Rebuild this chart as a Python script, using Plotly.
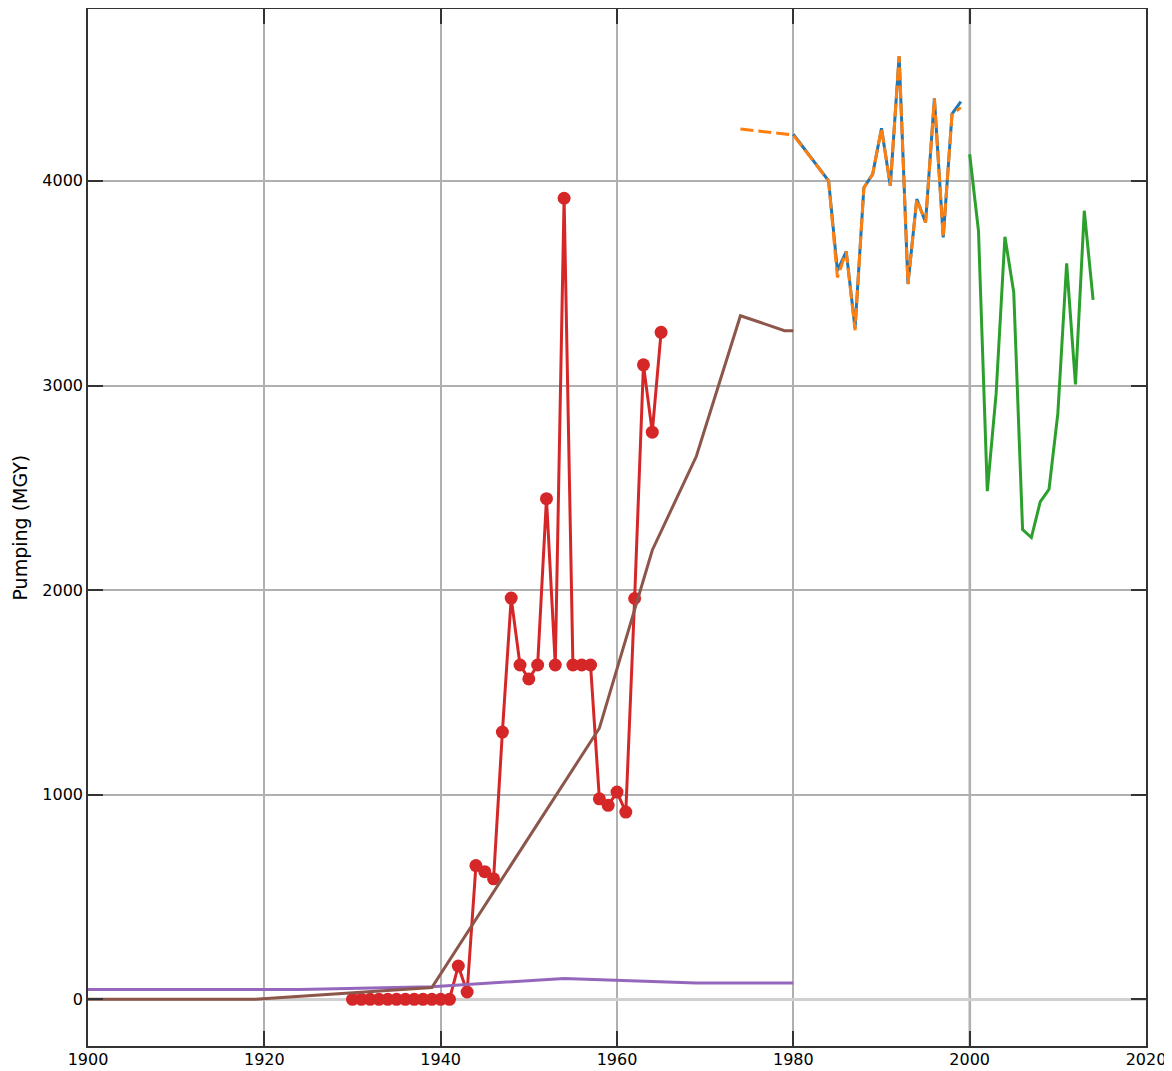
import plotly.graph_objects as go

# ---- data ----
blue_years = [1980, 1984, 1985, 1986, 1987, 1988, 1989, 1990, 1991, 1992, 1993, 1994, 1995, 1996, 1997, 1998, 1999]
blue_vals = [4228, 4000, 3561, 3655, 3281, 3967, 4033, 4257, 3976, 4610, 3496, 3911, 3797, 4403, 3724, 4328, 4387]

orange_years = [1974, 1980, 1984, 1985, 1986, 1987, 1988, 1989, 1990, 1991, 1992, 1993, 1994, 1995, 1996, 1997, 1998, 1999]
orange_vals = [4254, 4224, 4000, 3528, 3655, 3270, 3967, 4033, 4257, 3976, 4610, 3496, 3911, 3797, 4403, 3724, 4328, 4358]

green_years = [2000, 2001, 2002, 2003, 2004, 2005, 2006, 2007, 2008, 2009, 2010, 2011, 2012, 2013, 2014]
green_vals = [4130, 3756, 2484, 2960, 3727, 3455, 2296, 2257, 2431, 2493, 2862, 3597, 3005, 3854, 3418]

red_years = list(range(1930, 1966))
red_vals = [0, 0, 0, 0, 0, 0, 0, 0, 0, 0, 0, 0,
            163, 36, 654, 624, 589, 1306, 1961, 1634, 1566, 1634, 2447, 1634, 3915,
            1634, 1634, 1634, 980, 948, 1013, 915, 1959, 3101, 2772, 3260]

purple_years = [1900, 1924, 1939, 1954, 1969, 1980]
purple_vals = [48, 48, 62, 102, 80, 80]

brown_years = [1900, 1919, 1939, 1958, 1964, 1969, 1974, 1979, 1980]
brown_vals = [0, 0, 58, 1325, 2195, 2654, 3341, 3268, 3268]

x_ticks = [1900, 1920, 1940, 1960, 1980, 2000, 2020]
y_ticks = [0, 1000, 2000, 3000, 4000]

FONT = "DejaVu Sans"
LW = 3

fig = go.Figure()
fig.add_trace(go.Scatter(x=blue_years, y=blue_vals, mode="lines",
                         line=dict(color="#1f77b4", width=LW)))
fig.add_trace(go.Scatter(x=orange_years, y=orange_vals, mode="lines",
                         line=dict(color="#ff7f0e", width=LW, dash="13px,5px")))
fig.add_trace(go.Scatter(x=green_years, y=green_vals, mode="lines",
                         line=dict(color="#2ca02c", width=LW)))
fig.add_trace(go.Scatter(x=red_years, y=red_vals, mode="lines+markers",
                         line=dict(color="#d62728", width=LW),
                         marker=dict(color="#d62728", size=13)))
fig.add_trace(go.Scatter(x=purple_years, y=purple_vals, mode="lines",
                         line=dict(color="#9467bd", width=LW)))
fig.add_trace(go.Scatter(x=brown_years, y=brown_vals, mode="lines",
                         line=dict(color="#8c564b", width=LW)))

# light reference line at 2000
fig.add_shape(type="line", x0=2000, x1=2000, y0=0, y1=1, xref="x", yref="paper",
              line=dict(color="#d0d0d0", width=3), layer="between")

axis_common = dict(
    showgrid=True, gridcolor="#b0b0b0", gridwidth=2,
    showline=True, linecolor="#333333", linewidth=1.5, mirror="ticks",
    ticks="inside", ticklen=15, tickwidth=1.5, tickcolor="#333333",
    tickfont=dict(family=FONT, size=16, color="#000000"),
    automargin=False,
)

fig.update_xaxes(range=[1900, 2020], tickvals=x_ticks, ticktext=[str(v) for v in x_ticks],
                 zeroline=False, ticklabelstandoff=-2, **axis_common)
fig.update_yaxes(range=[-228, 4840], tickvals=y_ticks, ticktext=[str(v) for v in y_ticks],
                 zeroline=True, zerolinecolor="#d0d0d0", zerolinewidth=3, **axis_common)

fig.add_annotation(text="Pumping (MGY)", xref="paper", yref="paper", x=0, y=0.5,
                   xshift=-69, textangle=-90, showarrow=False,
                   font=dict(family=FONT, size=19, color="#000000"),
                   xanchor="center", yanchor="middle")

# the page body adds an 8px offset; margins compensate for it
fig.update_layout(
    width=1172, height=1071,
    margin=dict(l=80, r=34, t=1, b=33),
    paper_bgcolor="white", plot_bgcolor="white",
    showlegend=False,
)

fig.write_html("out.html")
